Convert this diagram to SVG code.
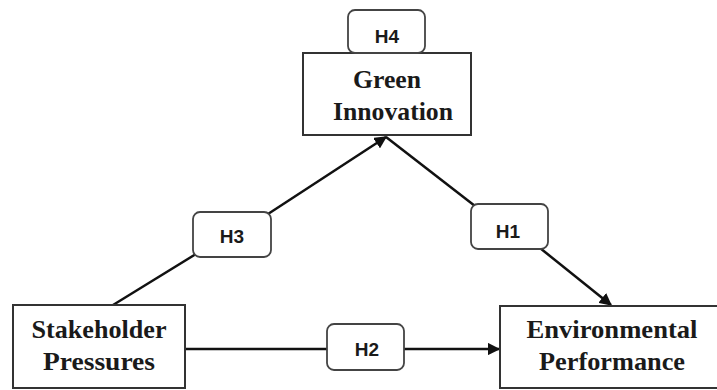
<svg xmlns="http://www.w3.org/2000/svg" width="717" height="390" viewBox="0 0 717 390">
<defs>
<marker id="arr" viewBox="0 0 10 10" refX="9" refY="5" markerWidth="5" markerHeight="5" orient="auto-start-reverse" markerUnits="strokeWidth">
<path d="M0,0 L10,5 L0,10 z" fill="#111"/>
</marker>
<style>
.box{fill:#fff;stroke:#333;stroke-width:2}
.hb{fill:#fff;stroke:#444;stroke-width:1.8}
.t{font-family:"Liberation Serif","Times New Roman",serif;font-weight:bold;font-size:25px;fill:#1a1a1a;text-anchor:middle}
.h{font-family:"Liberation Sans",Arial,sans-serif;font-weight:bold;font-size:19px;fill:#1a1a1a;text-anchor:middle}
.c{stroke:#111;stroke-width:2.5;fill:none}
</style>
</defs>
<rect width="717" height="390" fill="#fff"/>
<g id="connectors">
<line class="c" x1="113" y1="305" x2="196" y2="254"/>
<line class="c" x1="268" y1="214" x2="386" y2="137" marker-end="url(#arr)"/>
<line class="c" x1="386" y1="137" x2="475" y2="206"/>
<line class="c" x1="540" y1="248" x2="611" y2="305" marker-end="url(#arr)"/>
<line class="c" x1="185" y1="349" x2="327" y2="349"/>
<line class="c" x1="404" y1="349" x2="499" y2="349" marker-end="url(#arr)"/>
</g>
<g id="green-innovation">
<rect class="box" x="303" y="53" width="168" height="82"/>
<text class="t" x="387" y="88" textLength="68" lengthAdjust="spacingAndGlyphs">Green</text>
<text class="t" x="393" y="120" textLength="120" lengthAdjust="spacingAndGlyphs">Innovation</text>
</g>
<g id="h4">
<rect class="hb" x="348" y="10" width="77" height="43" rx="7"/>
<text class="h" x="387" y="43">H4</text>
</g>
<g id="stakeholder-pressures">
<rect class="box" x="13" y="305" width="172" height="83"/>
<text class="t" x="99" y="338" textLength="135" lengthAdjust="spacingAndGlyphs">Stakeholder</text>
<text class="t" x="99" y="370" textLength="112" lengthAdjust="spacingAndGlyphs">Pressures</text>
</g>
<g id="environmental-performance">
<rect class="box" x="500" y="306" width="230" height="82"/>
<text class="t" x="612" y="338" textLength="171" lengthAdjust="spacingAndGlyphs">Environmental</text>
<text class="t" x="612" y="370" textLength="146" lengthAdjust="spacingAndGlyphs">Performance</text>
</g>
<g id="h3">
<rect class="hb" x="193" y="212" width="78" height="45" rx="7"/>
<text class="h" x="232" y="243">H3</text>
</g>
<g id="h1">
<rect class="hb" x="471" y="204" width="77" height="45" rx="7"/>
<text class="h" x="508" y="238">H1</text>
</g>
<g id="h2">
<rect class="hb" x="327" y="324" width="77" height="46" rx="7"/>
<text class="h" x="367" y="356">H2</text>
</g>
</svg>
